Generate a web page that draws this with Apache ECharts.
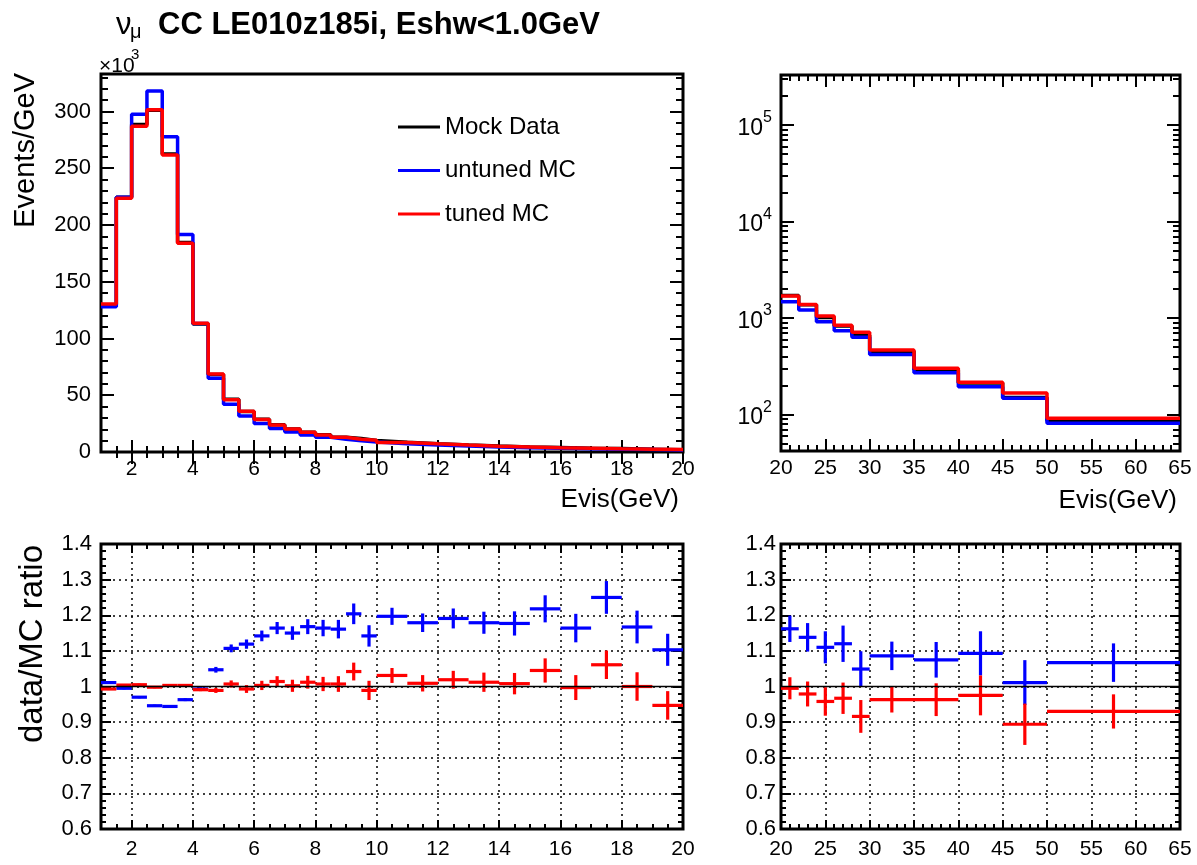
<!DOCTYPE html>
<html>
<head>
<meta charset="utf-8">
<script src="https://cdn.jsdelivr.net/npm/echarts@6/dist/echarts.min.js"></script>
<style>
  html, body { margin: 0; padding: 0; background: #fff; }
  #chart { width: 1197px; height: 865px; }
</style>
</head>
<body>
<div id="chart"></div>
<script>
// bin edges (GeV)
const lowEdges = [1, 1.5, 2, 2.5, 3, 3.5, 4, 4.5, 5, 5.5, 6, 6.5, 7, 7.5, 8, 8.5, 9, 9.5, 10, 11, 12, 13, 14, 15, 16, 17, 18, 19, 20];
const highEdges = [20, 22, 24, 26, 28, 30, 35, 40, 45, 50, 65];

// Events/GeV (x10^3), 1-20 GeV
const mockLow = [129.5, 224.5, 288.5, 301, 262.5, 184.5, 112.7, 68.2, 46.4, 35.6, 28.8, 24.1, 20.2, 17.5, 15.1, 13.1, 11.8, 10.2, 8.6, 7.3, 6.2, 5.2, 4.5, 3.9, 3.3, 3.0, 2.45, 2.0];
const untunedLow = [128, 224.5, 297.5, 318, 277.8, 191.6, 113.3, 65, 42, 31.8, 25.2, 20.7, 17.6, 15.0, 13.0, 11.3, 9.8, 8.9, 7.2, 6.2, 5.2, 4.4, 3.8, 3.2, 2.8, 2.4, 2.1, 1.8];
const tunedLow = [130.3, 223.6, 287, 301.6, 261.7, 184, 113.5, 68.8, 46, 35.8, 28.7, 23.8, 20.2, 17.3, 15.0, 13.0, 11.3, 10.3, 8.35, 7.2, 6.1, 5.15, 4.45, 3.75, 3.3, 2.85, 2.45, 2.1];

// Events/GeV, 20-65 GeV
const mockHigh = [1705, 1370, 1010, 822, 662, 452, 290, 211, 150, 85.5];
const untunedHigh = [1470, 1205, 912, 735, 632, 418, 270, 193, 147, 80.7];
const tunedHigh = [1690, 1380, 1045, 841, 712, 464, 300, 215, 167, 91];

// data/MC ratios and errors
const untunedRatioLow = [1.011, 0.995, 0.970, 0.946, 0.944, 0.963, 0.993, 1.047, 1.107, 1.119, 1.142, 1.164, 1.150, 1.168, 1.164, 1.161, 1.204, 1.142, 1.197, 1.179, 1.191, 1.179, 1.177, 1.218, 1.164, 1.250, 1.167, 1.103];
const untunedErrLow = [0.004, 0.003, 0.003, 0.003, 0.003, 0.004, 0.005, 0.008, 0.011, 0.013, 0.015, 0.017, 0.019, 0.021, 0.023, 0.026, 0.029, 0.030, 0.024, 0.026, 0.028, 0.031, 0.034, 0.038, 0.040, 0.046, 0.046, 0.045];
const tunedRatioLow = [0.993, 1.004, 1.005, 0.998, 1.003, 1.003, 0.991, 0.989, 1.007, 0.993, 1.003, 1.014, 1.002, 1.012, 1.007, 1.007, 1.042, 0.989, 1.031, 1.009, 1.019, 1.012, 1.008, 1.045, 0.997, 1.061, 1.000, 0.947];
const tunedErrLow = [0.003, 0.003, 0.003, 0.003, 0.003, 0.003, 0.004, 0.007, 0.010, 0.011, 0.013, 0.015, 0.017, 0.018, 0.020, 0.022, 0.025, 0.027, 0.021, 0.023, 0.025, 0.027, 0.030, 0.034, 0.035, 0.040, 0.040, 0.040];

const untunedRatioHigh = [1.162, 1.138, 1.110, 1.120, 1.049, 1.086, 1.075, 1.093, 1.011, 1.067];
const untunedErrHigh = [0.037, 0.040, 0.045, 0.051, 0.050, 0.040, 0.050, 0.062, 0.063, 0.054];
const tunedRatioHigh = [0.995, 0.979, 0.958, 0.967, 0.916, 0.963, 0.963, 0.975, 0.894, 0.930];
const tunedErrHigh = [0.031, 0.035, 0.040, 0.044, 0.046, 0.036, 0.046, 0.056, 0.058, 0.048];

// tick labels
const lowXTicks = [2, 4, 6, 8, 10, 12, 14, 16, 18, 20];
const highXTicks = [20, 25, 30, 35, 40, 45, 50, 55, 60, 65];
const eventsTicks = [0, 50, 100, 150, 200, 250, 300];
const logTicks = [100, 1000, 10000, 100000];
const logMinorTicks = [50, 60, 70, 80, 90, 200, 300, 400, 500, 600, 700, 800, 900, 2000, 3000, 4000, 5000, 6000, 7000, 8000, 9000,
  20000, 30000, 40000, 50000, 60000, 70000, 80000, 90000, 200000, 300000];
const ratioTicks = [0.6, 0.7, 0.8, 0.9, 1, 1.1, 1.2, 1.3, 1.4];

const FONT = '"Liberation Sans", Arial, Helvetica, sans-serif';
const BLUE = '#0000ff';
const RED = '#ff0000';

function minorTicks(a, b, step, skip) {
  const out = [];
  for (let v = a; v <= b + 1e-9; v += step) {
    const r = Math.round(v * 1000) / 1000;
    if (Math.abs(r / skip - Math.round(r / skip)) > 1e-6) out.push(r);
  }
  return out;
}

// 4 axes per side: labelled main, its minor ticks, the mirrored side and its minor ticks
function sideAxes(kind, g, o) {
  const pos = kind === 'x' ? ['bottom', 'top'] : ['left', 'right'];
  const tick = (vals, len) => ({
    show: true, inside: true, length: len, customValues: vals,
    lineStyle: { color: '#000', width: 2 }
  });
  const base = {
    gridIndex: g, type: o.type || 'value', min: o.min, max: o.max,
    axisLine: { show: false }, splitLine: { show: false },
    axisLabel: { show: false }, minorTick: { show: false }
  };
  const main = Object.assign({}, base, {
    position: pos[0],
    axisTick: tick(o.major, o.len),
    axisLabel: {
      show: true, customValues: o.major, color: '#000', fontSize: o.font,
      fontFamily: FONT, margin: o.margin, formatter: o.fmt, rich: o.rich, hideOverlap: false
    },
    splitLine: { show: !!o.grid, lineStyle: { color: '#000', type: [2, 4], width: 1.5 } }
  });
  return [
    main,
    Object.assign({}, base, { position: pos[0], axisTick: tick(o.minor, o.minorLen) }),
    Object.assign({}, base, { position: pos[1], axisTick: tick(o.major, o.len) }),
    Object.assign({}, base, { position: pos[1], axisTick: tick(o.minor, o.minorLen) })
  ];
}

function stepData(edges, vals) {
  const d = vals.map((v, i) => [edges[i], v]);
  d.push([edges[edges.length - 1], vals[vals.length - 1]]);
  return d;
}

function crossData(edges, vals, errs) {
  return vals.map((v, i) => [edges[i], edges[i + 1], v, errs[i]]);
}

function histSeries(name, color, idx, edges, vals) {
  return {
    name: name, type: 'line', step: 'end', color: color,
    xAxisIndex: idx, yAxisIndex: idx, symbol: 'none',
    lineStyle: { color: color, width: 3.5 },
    data: stepData(edges, vals)
  };
}

function crossSeries(name, color, idx, edges, vals, errs) {
  return {
    name: name, type: 'custom', xAxisIndex: idx, yAxisIndex: idx,
    encode: { x: [0, 1], y: 2 },
    renderItem: function (params, api) {
      const lo = api.value(0), hi = api.value(1), v = api.value(2), e = api.value(3);
      const a = api.coord([lo, v]), b = api.coord([hi, v]);
      const t = api.coord([(lo + hi) / 2, v + e]), u = api.coord([(lo + hi) / 2, v - e]);
      const st = { stroke: color, lineWidth: 3.2 };
      return {
        type: 'group', children: [
          { type: 'line', shape: { x1: a[0], y1: a[1], x2: b[0], y2: b[1] }, style: st },
          { type: 'line', shape: { x1: t[0], y1: t[1], x2: u[0], y2: u[1] }, style: st }
        ]
      };
    },
    data: crossData(edges, vals, errs)
  };
}

function unitySeries(idx, lo, hi) {
  return {
    name: 'ratio = 1', type: 'line', xAxisIndex: idx, yAxisIndex: idx, symbol: 'none',
    lineStyle: { color: '#000', width: 1.5 }, data: [[lo, 1], [hi, 1]]
  };
}

const logFmt = v => '{a|10}{b|' + Math.round(Math.log10(v)) + '}';
const logRich = {
  a: { fontSize: 23, fontFamily: FONT, color: '#000', lineHeight: 30, verticalAlign: 'bottom' },
  b: { fontSize: 16, fontFamily: FONT, color: '#000', lineHeight: 15, verticalAlign: 'top' }
};

const lowXMinor = minorTicks(1.5, 19.5, 0.5, 2);
const highXMinor = minorTicks(21, 64, 1, 5);
const ratioMinor = minorTicks(0.62, 1.38, 0.02, 0.1);
const eventsMinor = minorTicks(10, 330, 10, 50);

const grids = [
  { left: 101, top: 74, width: 582, height: 378 },
  { left: 781, top: 75, width: 399, height: 376 },
  { left: 101, top: 544, width: 582, height: 285 },
  { left: 781, top: 544, width: 399, height: 285 }
].map(g => Object.assign(g, {
  show: true, borderColor: '#000', borderWidth: 3, backgroundColor: 'transparent',
  containLabel: false, outerBoundsMode: 'none'
}));

const xAxes = [].concat(
  sideAxes('x', 0, { min: 1, max: 20, major: lowXTicks, minor: lowXMinor, len: 12, minorLen: 6, font: 21, margin: 7 }),
  sideAxes('x', 1, { min: 20, max: 65, major: highXTicks, minor: highXMinor, len: 12, minorLen: 6, font: 21, margin: 7 }),
  sideAxes('x', 2, { min: 1, max: 20, major: lowXTicks, minor: lowXMinor, len: 9, minorLen: 5, font: 21, margin: 10, grid: true }),
  sideAxes('x', 3, { min: 20, max: 65, major: highXTicks, minor: highXMinor, len: 9, minorLen: 5, font: 21, margin: 10, grid: true })
);

const yAxes = [].concat(
  sideAxes('y', 0, { min: 0, max: 333, major: eventsTicks, minor: eventsMinor, len: 13, minorLen: 7, font: 22, margin: 10 }),
  sideAxes('y', 1, { type: 'log', min: 41.7, max: 330000, major: logTicks, minor: logMinorTicks, len: 13, minorLen: 7, font: 22, margin: 9, fmt: logFmt, rich: logRich }),
  sideAxes('y', 2, { min: 0.6, max: 1.4, major: ratioTicks, minor: ratioMinor, len: 10, minorLen: 5, font: 22, margin: 9, grid: true }),
  sideAxes('y', 3, { min: 0.6, max: 1.4, major: ratioTicks, minor: ratioMinor, len: 10, minorLen: 5, font: 22, margin: 5, grid: true })
);

const series = [
  histSeries('Mock Data', '#000', 0, lowEdges, mockLow),
  histSeries('untuned MC', BLUE, 0, lowEdges, untunedLow),
  histSeries('tuned MC', RED, 0, lowEdges, tunedLow),
  histSeries('Mock Data', '#000', 4, highEdges, mockHigh),
  histSeries('untuned MC', BLUE, 4, highEdges, untunedHigh),
  histSeries('tuned MC', RED, 4, highEdges, tunedHigh),
  unitySeries(8, 1, 20),
  crossSeries('untuned ratio', BLUE, 8, lowEdges, untunedRatioLow, untunedErrLow),
  crossSeries('tuned ratio', RED, 8, lowEdges, tunedRatioLow, tunedErrLow),
  unitySeries(12, 20, 65),
  crossSeries('untuned ratio', BLUE, 12, highEdges, untunedRatioHigh, untunedErrHigh),
  crossSeries('tuned ratio', RED, 12, highEdges, tunedRatioHigh, tunedErrHigh)
];

function txt(x, y, text, font, align, vAlign, rotation) {
  return {
    type: 'text', x: x, y: y, rotation: rotation || 0,
    style: {
      text: text, font: font, fill: '#000',
      align: align, textAlign: align, verticalAlign: vAlign, textVerticalAlign: vAlign
    }
  };
}

const graphics = [
  txt(116, 41, '\u03bd', '31px ' + FONT, 'left', 'bottom'),
  txt(130, 42, '\u03bc', '20px ' + FONT, 'left', 'bottom'),
  txt(158, 41, 'CC LE010z185i, Eshw<1.0GeV', 'bold 31px ' + FONT, 'left', 'bottom'),
  txt(99, 77, '\u00d710', '21px ' + FONT, 'left', 'bottom'),
  txt(131, 62, '3', '15px ' + FONT, 'left', 'bottom'),
  txt(11, 73, 'Events/GeV', '29px ' + FONT, 'right', 'top', Math.PI / 2),
  txt(16, 545, 'data/MC ratio', '33px ' + FONT, 'right', 'top', Math.PI / 2),
  txt(679, 500, 'Evis(GeV)', '26px ' + FONT, 'right', 'middle'),
  txt(1177, 501, 'Evis(GeV)', '26px ' + FONT, 'right', 'middle')
];

const chart = echarts.init(document.getElementById('chart'), null, { renderer: 'canvas' });
chart.setOption({
  animation: false,
  backgroundColor: '#fff',
  textStyle: { fontFamily: FONT, color: '#000' },
  grid: grids,
  xAxis: xAxes,
  yAxis: yAxes,
  legend: {
    data: ['Mock Data', 'untuned MC', 'tuned MC'],
    orient: 'vertical', left: 393, top: 110,
    itemWidth: 42, itemHeight: 3, itemGap: 19.5, icon: 'rect',
    selectedMode: false,
    textStyle: { fontSize: 24, fontFamily: FONT, color: '#000', padding: [0, 0, 0, 0] }
  },
  graphic: graphics,
  series: series
});
</script>
</body>
</html>
